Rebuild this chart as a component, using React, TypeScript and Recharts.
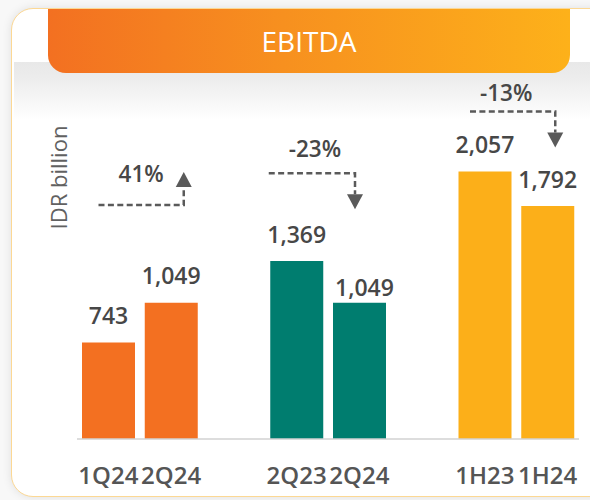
import React from "react";
import { BarChart, Bar, XAxis, YAxis, Cell, LabelList } from "recharts";

// ---- data ----
const title = "EBITDA";
const yAxisTitle = "IDR billion";
const categories = ["1Q24", "2Q24", "2Q23", "2Q24", "1H23", "1H24"];
const ebitdaValues = [743, 1049, 1369, 1049, 2057, 1792];
const groupOfBar = [0, 0, 1, 1, 2, 2];
const groupColors = ["#F37021", "#007D6F", "#FCAF19"];
const yDomain = [0, 2500];
const changeLabels = ["41%", "-23%", "-13%"];
const changeDirections = ["up", "down", "down"];
const changeLineLevels = [1800, 2045, 2520];
const changeTextLevels = [1975, 2170, 2600];

// ---- layout ----
const W = 590;
const H = 500;
const MARGIN = { top: 114, right: 11, left: 77, bottom: 0 };
const FONT = "'Open Sans', 'Noto Sans', sans-serif";
const TEXT_DARK = "#474747";
const ARROW_COLOR = "#5a5a5a";
const ARROW_NUDGE = [
  { left: 16.5, right: 12.5, text: 0 },
  { left: -1.5, right: -4.5, text: 3 },
  { left: 11.5, right: 7.5, text: -6.5 },
];

type Row = { key: string; label: string; value: number | null; group: number; barIndex: number };
const data: Row[] = [];
categories.forEach((c, i) => {
  if (i > 0 && groupOfBar[i] !== groupOfBar[i - 1]) {
    data.push({ key: `gap${i}`, label: "", value: null, group: -1, barIndex: -1 });
  }
  data.push({ key: `bar${i}`, label: c, value: ebitdaValues[i], group: groupOfBar[i], barIndex: i });
});
const SLOT = (W - MARGIN.left - MARGIN.right) / data.length;

const fmt = (v: number) => v.toLocaleString("en-US");

const ValueLabel = (props: any) => {
  const { x, y, width, height } = props;
  const bx = Number(x);
  const by = Number(y);
  const bw = Number(width);
  const bh = Number(height);
  const slotIdx = Math.floor((bx + bw / 2 - MARGIN.left) / SLOT);
  const row = data[slotIdx];
  if (!row || row.value == null) return null;
  const isTight = row.barIndex === 3;
  const gap = isTight ? 6.5 : 18.5;
  const dx = isTight ? 5 : 0;
  const items: any[] = [
    <text
      key="v"
      x={bx + bw / 2 + dx}
      y={by - gap}
      textAnchor="middle"
      fontFamily={FONT}
      fontSize={23}
      fontWeight={600}
      fill={TEXT_DARK}
    >
      {fmt(row.value)}
    </text>,
  ];
  // change annotation drawn with the second bar of each pair
  if (row.barIndex % 2 === 1) {
    const g = row.group;
    const n = ARROW_NUDGE[g];
    const base = by + bh;
    const ppu = bh / row.value;
    const lineY = base - changeLineLevels[g] * ppu;
    const textY = base - changeTextLevels[g] * ppu;
    const lineL = bx - SLOT + n.left;
    const arrowX = bx + bw / 2 + n.right;
    const up = changeDirections[g] === "up";
    const tip = up ? lineY - 33 : lineY + 36;
    const headBase = up ? tip + 15 : tip - 15;
    items.push(
      <g key="a">
        <path
          d={`M${lineL},${lineY} H${arrowX} V${headBase}`}
          fill="none"
          stroke={ARROW_COLOR}
          strokeWidth={2.5}
          strokeDasharray="6 3.4"
        />
        <polygon
          points={`${arrowX - 8},${headBase} ${arrowX + 8},${headBase} ${arrowX},${tip}`}
          fill={ARROW_COLOR}
        />
        <text
          x={(lineL + arrowX) / 2 + n.text}
          y={textY}
          textAnchor="middle"
          fontFamily={FONT}
          fontSize={22.5}
          fontWeight={600}
          fill={TEXT_DARK}
        >
          {changeLabels[g]}
        </text>
      </g>
    );
  }
  return <g>{items}</g>;
};

const XTick = (props: any) => {
  const { x, y, payload } = props;
  const row = data.find((r) => r.key === payload.value);
  if (!row || !row.label) return null;
  return (
    <text
      x={x}
      y={Number(y) + 45}
      textAnchor="middle"
      fontFamily={FONT}
      fontSize={24}
      fontWeight={600}
      fill="#555555"
    >
      {row.label}
    </text>
  );
};

export default function App() {
  const tx = MARGIN.left - 10;
  const ty = MARGIN.top + 63.5;
  return (
    <div style={{ position: "absolute", left: 0, top: 0, width: W, height: H, overflow: "hidden", background: "#f8f8f8" }}>
      {/* card */}
      <div
        style={{
          position: "absolute",
          left: 11,
          top: 8,
          width: 610,
          height: 489,
          borderRadius: 22,
          background: "#ffffff",
          border: "1.5px solid #FCD894",
          boxShadow: "0 0 10px rgba(0,0,0,0.10)",
          boxSizing: "border-box",
        }}
      />
      {/* soft shadow band under the header */}
      <div
        style={{
          position: "absolute",
          left: 14,
          top: 62,
          width: 590,
          height: 58,
          background: "linear-gradient(to bottom, #e8e8e8 0%, #ececec 25%, rgba(255,255,255,0) 100%)",
        }}
      />
      {/* header */}
      <div
        style={{
          position: "absolute",
          left: 48,
          top: 9,
          width: 522,
          height: 64,
          borderRadius: "0 0 18px 18px",
          background: "linear-gradient(to right, #F37021 0%, #F7901F 45%, #FDB11A 100%)",
          color: "#ffffff",
          fontFamily: FONT,
          fontSize: 28,
          lineHeight: "64px",
          textAlign: "center",
        }}
      >
        {title}
      </div>
      <div style={{ position: "absolute", left: 0, top: 0 }}>
        <BarChart width={W} height={H} data={data} margin={MARGIN} barSize={53}>
          <XAxis
            dataKey="key"
            height={61}
            interval={0}
            tickLine={false}
            tickSize={0}
            tickMargin={0}
            axisLine={{ stroke: "#d2d2d2", strokeWidth: 1.5 }}
            tick={<XTick />}
          />
          <YAxis
            width={0}
            domain={yDomain}
            tick={false}
            tickLine={false}
            axisLine={{ stroke: "#cfcfcf", strokeWidth: 1.5 }}
          />
          <Bar dataKey="value" isAnimationActive={false}>
            {data.map((r) => (
              <Cell key={r.key} fill={r.group >= 0 ? groupColors[r.group] : "transparent"} />
            ))}
            <LabelList dataKey="value" content={<ValueLabel />} />
          </Bar>
        </BarChart>
      </div>
      <svg style={{ position: "absolute", left: 0, top: 0 }} width={W} height={H} pointerEvents="none">
        <text
          x={tx}
          y={ty}
          transform={`rotate(-90, ${tx}, ${ty})`}
          textAnchor="middle"
          fontFamily={FONT}
          fontSize={22}
          fill="#616161"
        >
          {yAxisTitle}
        </text>
      </svg>
    </div>
  );
}
